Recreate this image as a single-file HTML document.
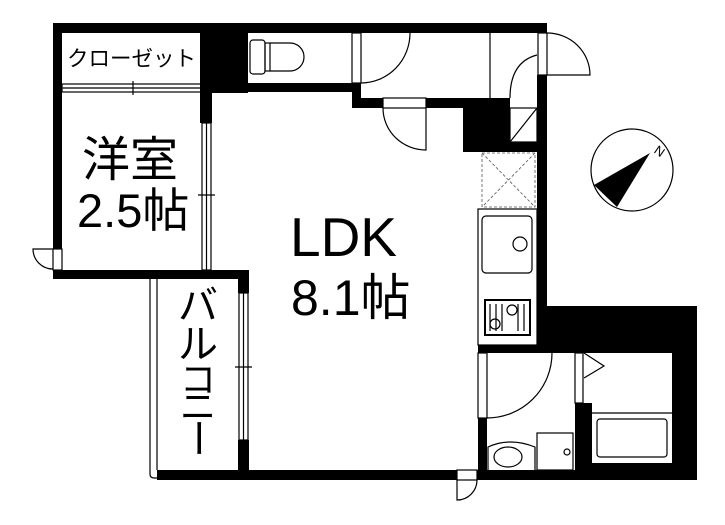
<!DOCTYPE html>
<html><head><meta charset="utf-8"><style>
html,body{margin:0;padding:0;background:#fff;}
svg{display:block;}
text{font-family:"Liberation Sans","Noto Sans CJK JP",sans-serif;fill:#000;}
</style></head><body>
<svg width="725" height="525" viewBox="0 0 725 525" xmlns="http://www.w3.org/2000/svg">
<g fill="#000">
<rect x="53" y="23" width="494" height="10"/>
<rect x="53" y="23" width="9" height="226"/>
<rect x="200" y="23" width="48" height="70"/>
<rect x="200" y="23" width="12" height="100"/>
<rect x="248" y="83" width="113" height="9"/>
<rect x="352" y="83" width="9" height="25"/>
<rect x="352" y="98" width="31" height="10"/>
<rect x="426" y="98" width="84" height="10"/>
<rect x="463" y="98" width="47" height="54"/>
<rect x="510" y="142" width="28" height="10"/>
<rect x="537" y="75" width="10" height="278"/>
<rect x="53" y="270" width="196" height="9"/>
<rect x="238" y="270" width="11" height="23"/>
<rect x="238" y="440" width="11" height="40"/>
<rect x="157" y="470" width="300" height="10"/>
<rect x="477" y="470" width="220" height="10"/>
<rect x="547" y="306" width="150" height="47"/>
<rect x="478" y="345" width="100" height="8"/>
<rect x="672" y="306" width="25" height="174"/>
<rect x="478" y="418" width="9" height="62"/>
<rect x="575" y="403" width="17" height="77"/>
<rect x="592" y="463" width="80" height="10"/>
</g>
<g fill="none" stroke="#000" stroke-width="1.2">
<rect x="62" y="84" width="140" height="8"/>
<line x1="62" y1="88" x2="202" y2="88"/>
<line x1="133" y1="81" x2="133" y2="95"/>
<rect x="202" y="123" width="9" height="147"/>
<line x1="206.5" y1="123" x2="206.5" y2="270"/>
<line x1="198" y1="195" x2="215" y2="195"/>
<rect x="53" y="249" width="9" height="21"/>
<path d="M53,249 L33,249 A20,20 0 0 0 53,269"/>
<path d="M157,279 L157,470 M150,279 L150,474 Q150,478 154,478 L157,478"/>
<rect x="239" y="293" width="9" height="147"/>
<line x1="243.5" y1="293" x2="243.5" y2="440"/>
<line x1="235" y1="367" x2="252" y2="367"/>
<rect x="352" y="33" width="9" height="50"/>
<path d="M361,83 A49,50 0 0 0 410,33"/>
<rect x="250" y="40" width="15" height="34" rx="3"/>
<rect x="265" y="43" width="5" height="28"/>
<path d="M270,43 L290,43 A14,14 0 0 1 290,71 L270,71"/>
<line x1="490" y1="33" x2="490" y2="98"/>
<rect x="538" y="33" width="9" height="42"/>
<path d="M547,33 A43,42 0 0 1 590,75 L547,75"/>
<path d="M537,55 Q510,62 510,98"/>
<rect x="510" y="108" width="27" height="34"/>
<line x1="510" y1="142" x2="537" y2="108"/>
<rect x="383" y="98" width="43" height="10"/>
<path d="M426,108 L426,150 A43,42 0 0 1 383,108"/>
<rect x="478" y="209" width="59" height="136"/>
<rect x="482" y="216" width="50" height="57" rx="4"/>
<circle cx="520" cy="244" r="7"/>
<rect x="485" y="300" width="45" height="35" stroke-width="2"/>
<line x1="490" y1="304" x2="490" y2="331"/><line x1="496" y1="304" x2="496" y2="331"/><line x1="502" y1="304" x2="502" y2="331"/>
<line x1="518" y1="304" x2="518" y2="331"/><line x1="524" y1="304" x2="524" y2="331"/>
<circle cx="512" cy="310" r="5"/><circle cx="495" cy="324" r="5"/>
</g>
<g fill="none" stroke="#555" stroke-width="0.8" stroke-dasharray="3,2">
<rect x="482" y="153" width="53" height="54"/>
<line x1="482" y1="153" x2="535" y2="207"/>
<line x1="535" y1="153" x2="482" y2="207"/>
</g>
<g fill="none" stroke="#000" stroke-width="1.2">
<rect x="478" y="353" width="9" height="65"/>
<path d="M487,418 A65,65 0 0 0 552,353"/>
<path d="M488,470 L488,447 Q510,437 535,447 L535,470"/>
<ellipse cx="508" cy="457" rx="14" ry="10"/>
<rect x="537" y="433" width="36" height="37"/>
<circle cx="567" cy="452" r="3"/>
<rect x="575" y="353" width="8" height="50"/>
<path d="M584,353 L604,366 L584,378"/>
<line x1="592" y1="413" x2="672" y2="413"/>
<rect x="597" y="419" width="70" height="38" rx="3"/>
<rect x="457" y="470" width="20" height="10"/>
<path d="M457,480 L457,500 A20,20 0 0 0 477,480"/>
<circle cx="632" cy="170" r="41"/>
</g>
<polygon points="594,185 617,207 650,153" fill="#000"/>
<text x="656" y="153" font-size="13" transform="rotate(35 656 148)">N</text>
<text x="67" y="66" font-size="21.5">クローゼット</text>
<text x="82" y="176" font-size="48">洋室</text>
<text x="77" y="227" font-size="47">2.5帖</text>
<text x="290" y="256" font-size="55">LDK</text>
<text x="291" y="315" font-size="50">8.1帖</text>
<text font-size="40" x="198" y="319" text-anchor="middle">バ</text>
<text font-size="40" x="198" y="358" text-anchor="middle">ル</text>
<text font-size="36" x="198" y="392" text-anchor="middle">コ</text>
<text font-size="36" x="198" y="419" text-anchor="middle">ニ</text>
<text font-size="40" x="198" y="452" text-anchor="middle" transform="rotate(90 198 438)">ー</text>
</svg>
</body></html>
